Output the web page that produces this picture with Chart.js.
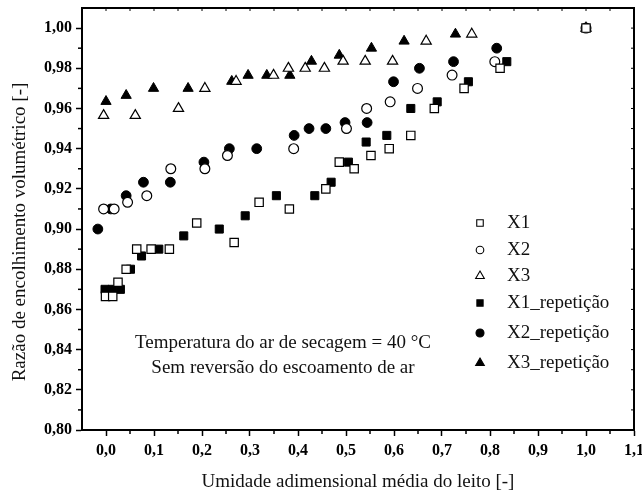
<!DOCTYPE html>
<html>
<head>
<meta charset="utf-8">
<script src="https://cdn.jsdelivr.net/npm/chart.js@4/dist/chart.umd.min.js"></script>
<style>
  html, body { margin: 0; padding: 0; background: #fff; }
  #wrap { width: 642px; height: 493px; }
</style>
</head>
<body>
<div id="wrap"><canvas id="c" width="642" height="493"></canvas></div>
<script>
// Umidade adimensional média do leito (x) e razão de encolhimento volumétrico (y)
const x1 = [-0.001, 0.014, 0.025, 0.042, 0.064, 0.094, 0.132, 0.189, 0.267, 0.319, 0.382, 0.458, 0.486, 0.517, 0.552, 0.590, 0.635, 0.684, 0.746, 0.821, 1.000];
const y1 = [0.8665, 0.8665, 0.8735, 0.880, 0.890, 0.890, 0.890, 0.903, 0.8933, 0.9133, 0.910, 0.920, 0.9333, 0.930, 0.9366, 0.940, 0.9466, 0.960, 0.970, 0.980, 1.000];

const x2 = [-0.005, 0.017, 0.045, 0.085, 0.135, 0.206, 0.253, 0.391, 0.501, 0.543, 0.592, 0.649, 0.721, 0.810, 1.000];
const y2 = [0.910, 0.910, 0.9133, 0.9166, 0.930, 0.930, 0.9366, 0.940, 0.950, 0.960, 0.9633, 0.970, 0.9766, 0.9833, 1.000];

const x3 = [-0.005, 0.061, 0.151, 0.206, 0.271, 0.349, 0.380, 0.415, 0.455, 0.494, 0.540, 0.597, 0.667, 0.762, 1.000];
const y3 = [0.9565, 0.9565, 0.960, 0.970, 0.9735, 0.9765, 0.980, 0.980, 0.980, 0.9835, 0.9835, 0.9835, 0.9935, 0.997, 1.000];

const x1Rep = [-0.002, 0.013, 0.030, 0.051, 0.074, 0.110, 0.162, 0.236, 0.290, 0.355, 0.435, 0.469, 0.505, 0.542, 0.585, 0.635, 0.690, 0.755, 0.835];
const y1Rep = [0.870, 0.870, 0.870, 0.880, 0.8866, 0.890, 0.8966, 0.900, 0.9066, 0.9166, 0.9166, 0.9233, 0.9333, 0.9433, 0.9466, 0.960, 0.9633, 0.9733, 0.9833];

const x2Rep = [-0.017, 0.010, 0.042, 0.078, 0.134, 0.204, 0.257, 0.314, 0.392, 0.423, 0.458, 0.498, 0.544, 0.599, 0.653, 0.724, 0.814];
const y2Rep = [0.900, 0.910, 0.9166, 0.9233, 0.9233, 0.9333, 0.940, 0.940, 0.9466, 0.950, 0.950, 0.953, 0.953, 0.9733, 0.980, 0.9833, 0.990];

const x3Rep = [0.000, 0.042, 0.099, 0.171, 0.262, 0.296, 0.335, 0.383, 0.428, 0.486, 0.553, 0.621, 0.728];
const y3Rep = [0.9635, 0.9665, 0.970, 0.970, 0.9735, 0.9765, 0.9765, 0.9765, 0.9835, 0.9865, 0.990, 0.9935, 0.997];

const seriesNames = ['X1', 'X2', 'X3', 'X1_repetição', 'X2_repetição', 'X3_repetição'];
const xTicks = [0.0, 0.1, 0.2, 0.3, 0.4, 0.5, 0.6, 0.7, 0.8, 0.9, 1.0, 1.1];
const yTicks = [0.80, 0.82, 0.84, 0.86, 0.88, 0.90, 0.92, 0.94, 0.96, 0.98, 1.00];
const xMinor = [0.05, 0.15, 0.25, 0.35, 0.45, 0.55, 0.65, 0.75, 0.85, 0.95, 1.05];
const yMinor = [0.81, 0.83, 0.85, 0.87, 0.89, 0.91, 0.93, 0.95, 0.97, 0.99];
const noteLines = ['Temperatura do ar de secagem = 40 °C', 'Sem reversão do escoamento de ar'];
const xTitle = 'Umidade adimensional média do leito [-]';
const yTitle = 'Razão de encolhimento volumétrico [-]';

const SERIF = '"Liberation Serif", "Times New Roman", serif';

function pts(xs, ys) { return xs.map((v, i) => ({ x: v, y: ys[i] })); }

const styles = [
  { pointStyle: 'rect',     pointRadius: 5.9, pointBackgroundColor: '#fff', pointBorderWidth: 1.2 },
  { pointStyle: 'circle',   pointRadius: 4.9, pointBackgroundColor: '#fff', pointBorderWidth: 1.2 },
  { pointStyle: 'triangle', pointRadius: 5.9, pointBackgroundColor: '#fff', pointBorderWidth: 1.2 },
  { pointStyle: 'rect',     pointRadius: 5.7, pointBackgroundColor: '#000', pointBorderWidth: 1 },
  { pointStyle: 'circle',   pointRadius: 4.9, pointBackgroundColor: '#000', pointBorderWidth: 1 },
  { pointStyle: 'triangle', pointRadius: 5.9, pointBackgroundColor: '#000', pointBorderWidth: 1 }
];
const allData = [pts(x1, y1), pts(x2, y2), pts(x3, y3), pts(x1Rep, y1Rep), pts(x2Rep, y2Rep), pts(x3Rep, y3Rep)];

const datasets = allData.map((d, i) => Object.assign({
  label: seriesNames[i],
  data: d,
  showLine: false,
  pointBorderColor: '#000',
  pointHoverRadius: 0
}, styles[i]));

const fmt = v => v.toFixed(2).replace('.', ',');

// frame, minor ticks, legend and annotation text
const extras = {
  id: 'extras',
  afterDraw(chart) {
    const { ctx, chartArea: a, scales: { x, y } } = chart;
    ctx.save();
    ctx.strokeStyle = '#000';
    const line = (x0, y0, x1_, y1_) => { ctx.beginPath(); ctx.moveTo(x0, y0); ctx.lineTo(x1_, y1_); ctx.stroke(); };

    // top and right frame
    ctx.lineWidth = 2;
    ctx.beginPath();
    ctx.moveTo(a.left - 1, a.top);
    ctx.lineTo(a.right, a.top);
    ctx.lineTo(a.right, a.bottom + 1);
    ctx.stroke();

    // minor ticks outward on bottom / left
    ctx.lineWidth = 1.5;
    xMinor.forEach(v => { const p = x.getPixelForValue(v); line(p, a.bottom, p, a.bottom + 4); });
    yMinor.forEach(v => { const p = y.getPixelForValue(v); line(a.left, p, a.left - 4, p); });

    // inward ticks on top / right
    ctx.lineWidth = 1;
    xTicks.concat(xMinor).forEach(v => { const p = x.getPixelForValue(v); if (p < a.right - 1) line(p, a.top, p, a.top + 3); });
    yTicks.concat(yMinor).forEach(v => { const p = y.getPixelForValue(v); if (p > a.top + 1 && p < a.bottom - 1) line(a.right, p, a.right - 3, p); });

    // y axis title
    ctx.fillStyle = '#111';
    ctx.font = '19px ' + SERIF;
    ctx.textAlign = 'center';
    ctx.textBaseline = 'middle';
    ctx.save();
    ctx.translate(20, 232);
    ctx.rotate(-Math.PI / 2);
    ctx.fillText(yTitle, 0, 0);
    ctx.restore();

    // annotation
    ctx.fillText(noteLines[0], 283, 343);
    ctx.fillText(noteLines[1], 283, 368);

    // legend
    const legendY = [223, 250, 276, 303, 333, 363];
    const legendR = [4.6, 3.8, 5, 4.4, 4, 5];
    ctx.textAlign = 'left';
    datasets.forEach((ds, i) => {
      const cx = 480, cy = legendY[i], r = legendR[i];
      ctx.fillStyle = ds.pointBackgroundColor;
      ctx.lineWidth = 1.1;
      ctx.beginPath();
      if (ds.pointStyle === 'rect') {
        const h = r * Math.SQRT1_2;
        ctx.rect(cx - h, cy - h, 2 * h, 2 * h);
      } else if (ds.pointStyle === 'circle') {
        ctx.arc(cx, cy, r, 0, Math.PI * 2);
      } else {
        ctx.moveTo(cx, cy - r);
        ctx.lineTo(cx + r * Math.sin(2 * Math.PI / 3), cy + r / 2);
        ctx.lineTo(cx - r * Math.sin(2 * Math.PI / 3), cy + r / 2);
        ctx.closePath();
      }
      ctx.fill();
      ctx.stroke();
      ctx.fillStyle = '#111';
      ctx.fillText(ds.label, 507, cy);
    });
    ctx.restore();
  }
};

new Chart(document.getElementById('c'), {
  type: 'scatter',
  data: { datasets },
  plugins: [extras],
  options: {
    responsive: false,
    animation: false,
    layout: { padding: { left: 0, right: 8, top: 8, bottom: 0 } },
    plugins: { legend: { display: false }, tooltip: { enabled: false } },
    events: [],
    scales: {
      x: {
        type: 'linear',
        min: -0.05,
        max: 1.1,
        afterBuildTicks: s => { s.ticks = xTicks.map(v => ({ value: v })); },
        afterFit: s => { s.height = 63; s.paddingLeft = 0; s.paddingRight = 0; },
        border: { display: true, width: 2, color: '#000' },
        grid: { drawOnChartArea: false, drawTicks: true, tickLength: 6, tickWidth: 1.5, tickColor: '#000' },
        ticks: {
          color: '#000',
          padding: 5,
          maxRotation: 0,
          autoSkip: false,
          font: { family: SERIF, size: 16, weight: 'bold' },
          callback: v => v.toFixed(1).replace('.', ',')
        },
        title: {
          display: true,
          text: xTitle,
          color: '#111',
          font: { family: SERIF, size: 19 },
          padding: { top: 0, bottom: 0 }
        }
      },
      y: {
        type: 'linear',
        min: 0.80,
        max: 1.01,
        afterBuildTicks: s => { s.ticks = yTicks.map(v => ({ value: v })); },
        afterFit: s => { s.width = 82; s.paddingTop = 0; s.paddingBottom = 0; },
        border: { display: true, width: 2, color: '#000' },
        grid: { drawOnChartArea: false, drawTicks: true, tickLength: 6, tickWidth: 1.5, tickColor: '#000' },
        ticks: {
          color: '#000',
          padding: 4,
          autoSkip: false,
          font: { family: SERIF, size: 16, weight: 'bold' },
          callback: v => fmt(v)
        }
      }
    }
  }
});
</script>
</body>
</html>
